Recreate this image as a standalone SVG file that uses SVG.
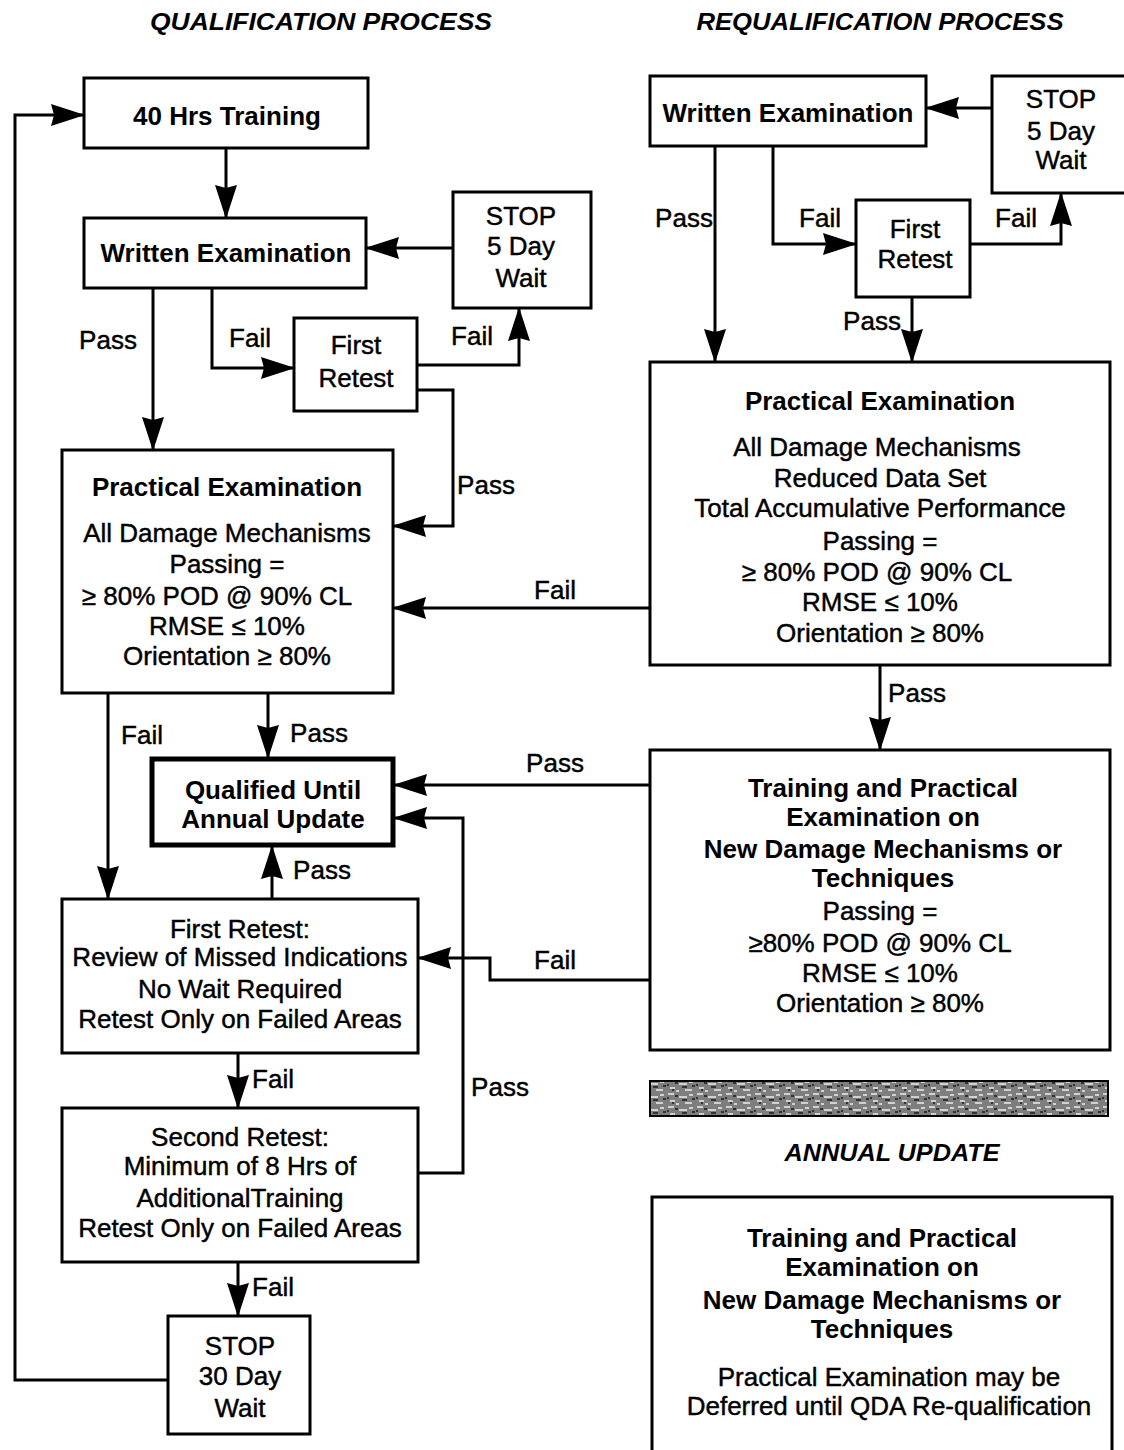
<svg xmlns="http://www.w3.org/2000/svg" width="1124" height="1450" viewBox="0 0 1124 1450">
<style>
  text { font-family: "Liberation Sans", Arial, sans-serif; font-size: 26px; fill: #000; text-anchor: middle; }
  .b { font-weight: bold; }
  .r { font-weight: normal; stroke: #000; stroke-width: 0.45; }
  .h { font-weight: bold; font-style: italic; font-size: 24px; }
  .box { fill: #fff; stroke: #000; stroke-width: 3; }
  .thick { fill: #fff; stroke: #000; stroke-width: 5; }
  .c { fill: none; stroke: #000; stroke-width: 3; marker-end: url(#ah); }
</style>
<defs>
  <marker id="ah" markerUnits="userSpaceOnUse" markerWidth="34" markerHeight="22" refX="33" refY="11" orient="auto">
    <path d="M0,0 L34,11 L0,22 L3,11 z" fill="#000"/>
  </marker>
  <pattern id="noise" patternUnits="userSpaceOnUse" width="29" height="13">
    <rect width="29" height="13" fill="#7e7e7e"/>
    <path d="M1,2 h6 M12,5 h8 M3,9 h5 M18,11 h7 M22,3 h4 M9,12 h3" stroke="#ececec" stroke-width="1.6"/>
    <path d="M8,4 h3 M15,8 h5 M0,6 h2 M25,7 h3 M5,11 h2" stroke="#1a1a1a" stroke-width="1.6"/>
  </pattern>
</defs>
<rect width="1124" height="1450" fill="#fff"/>

<text class="h" x="321" y="30" textLength="342" lengthAdjust="spacingAndGlyphs">QUALIFICATION PROCESS</text>
<text class="h" x="880" y="30" textLength="367" lengthAdjust="spacingAndGlyphs">REQUALIFICATION PROCESS</text>

<g id="connectors">
  <path class="c" d="M168,1380 H15 V115 H84"/>
  <path class="c" d="M226,148 V218"/>
  <path class="c" d="M453,248 H366"/>
  <path class="c" d="M153,288 V450"/>
  <path class="c" d="M212,288 V368 H294"/>
  <path class="c" d="M417,365 H519 V308"/>
  <path class="c" d="M417,390 H453 V526 H393"/>
  <path class="c" d="M650,608 H393"/>
  <path class="c" d="M268,693 V758"/>
  <path class="c" d="M108,693 V899"/>
  <path class="c" d="M272,899 V846"/>
  <path class="c" d="M650,785 H394"/>
  <path class="c" d="M418,1173 H463 V818 H394"/>
  <path class="c" d="M650,980 H490 V958 H418"/>
  <path class="c" d="M238,1053 V1108"/>
  <path class="c" d="M238,1262 V1316"/>
  <path class="c" d="M992,108 H926"/>
  <path class="c" d="M715,146 V362"/>
  <path class="c" d="M773,146 V244 H856"/>
  <path class="c" d="M970,244 H1061 V193"/>
  <path class="c" d="M912,297 V362"/>
  <path class="c" d="M880,665 V750"/>
  <g id="labels">
    <text class="r" x="108" y="349">Pass</text>
    <text class="r" x="250" y="347">Fail</text>
    <text class="r" x="472" y="345">Fail</text>
    <text class="r" x="486" y="494">Pass</text>
    <text class="r" x="555" y="599">Fail</text>
    <text class="r" x="142" y="744">Fail</text>
    <text class="r" x="319" y="742">Pass</text>
    <text class="r" x="555" y="772">Pass</text>
    <text class="r" x="322" y="879">Pass</text>
    <text class="r" x="555" y="969">Fail</text>
    <text class="r" x="273" y="1088">Fail</text>
    <text class="r" x="500" y="1096">Pass</text>
    <text class="r" x="273" y="1296">Fail</text>
    <text class="r" x="684" y="227">Pass</text>
    <text class="r" x="820" y="227">Fail</text>
    <text class="r" x="1016" y="227">Fail</text>
    <text class="r" x="872" y="330">Pass</text>
    <text class="r" x="917" y="702">Pass</text>
  </g>
</g>

<g id="training40">
  <rect class="box" x="84" y="78" width="284" height="70"/>
  <text class="b" x="227" y="125">40 Hrs Training</text>
</g>
<g id="written-left">
  <rect class="box" x="84" y="218" width="282" height="70"/>
  <text class="b" x="226" y="262">Written Examination</text>
</g>
<g id="stop5-left">
  <rect class="box" x="453" y="192" width="138" height="116"/>
  <text class="r" x="521" y="225">STOP</text>
  <text class="r" x="521" y="255">5 Day</text>
  <text class="r" x="521" y="287">Wait</text>
</g>
<g id="first-retest-left">
  <rect class="box" x="294" y="318" width="123" height="93"/>
  <text class="r" x="356" y="354">First</text>
  <text class="r" x="356" y="387">Retest</text>
</g>
<g id="practical-left">
  <rect class="box" x="62" y="450" width="331" height="243"/>
  <text class="b" x="227" y="496">Practical Examination</text>
  <text class="r" x="227" y="542">All Damage Mechanisms</text>
  <text class="r" x="227" y="573">Passing =</text>
  <text class="r" x="217" y="605">≥ 80% POD @ 90% CL</text>
  <text class="r" x="227" y="635">RMSE ≤ 10%</text>
  <text class="r" x="227" y="665">Orientation ≥ 80%</text>
</g>
<g id="qualified">
  <rect class="thick" x="152" y="759" width="241" height="86"/>
  <text class="b" x="273" y="799">Qualified Until</text>
  <text class="b" x="273" y="828">Annual Update</text>
</g>
<g id="first-retest-review">
  <rect class="box" x="62" y="899" width="356" height="154"/>
  <text class="r" x="240" y="938">First Retest:</text>
  <text class="r" x="240" y="966">Review of Missed Indications</text>
  <text class="r" x="240" y="998">No Wait Required</text>
  <text class="r" x="240" y="1028">Retest Only on Failed Areas</text>
</g>
<g id="second-retest">
  <rect class="box" x="62" y="1108" width="356" height="154"/>
  <text class="r" x="240" y="1146">Second Retest:</text>
  <text class="r" x="240" y="1175">Minimum of 8 Hrs of</text>
  <text class="r" x="240" y="1207">AdditionalTraining</text>
  <text class="r" x="240" y="1237">Retest Only on Failed Areas</text>
</g>
<g id="stop30">
  <rect class="box" x="168" y="1316" width="142" height="118"/>
  <text class="r" x="240" y="1355">STOP</text>
  <text class="r" x="240" y="1385">30 Day</text>
  <text class="r" x="240" y="1417">Wait</text>
</g>

<g id="written-right">
  <rect class="box" x="650" y="76" width="276" height="70"/>
  <text class="b" x="788" y="122">Written Examination</text>
</g>
<g id="stop5-right">
  <rect class="box" x="992" y="76" width="140" height="117"/>
  <text class="r" x="1061" y="108">STOP</text>
  <text class="r" x="1061" y="140">5 Day</text>
  <text class="r" x="1061" y="169">Wait</text>
</g>
<g id="first-retest-right">
  <rect class="box" x="856" y="200" width="114" height="97"/>
  <text class="r" x="915" y="238">First</text>
  <text class="r" x="915" y="268">Retest</text>
</g>
<g id="practical-right">
  <rect class="box" x="650" y="362" width="460" height="303"/>
  <text class="b" x="880" y="410">Practical Examination</text>
  <text class="r" x="877" y="456">All Damage Mechanisms</text>
  <text class="r" x="880" y="487">Reduced Data Set</text>
  <text class="r" x="880" y="517">Total Accumulative Performance</text>
  <text class="r" x="880" y="550">Passing =</text>
  <text class="r" x="877" y="581">≥ 80% POD @ 90% CL</text>
  <text class="r" x="880" y="611">RMSE ≤ 10%</text>
  <text class="r" x="880" y="642">Orientation ≥ 80%</text>
</g>
<g id="training-right">
  <rect class="box" x="650" y="750" width="460" height="300"/>
  <text class="b" x="883" y="797">Training and Practical</text>
  <text class="b" x="883" y="826">Examination on</text>
  <text class="b" x="883" y="858">New Damage Mechanisms or</text>
  <text class="b" x="883" y="887">Techniques</text>
  <text class="r" x="880" y="920">Passing =</text>
  <text class="r" x="880" y="952">≥80% POD @ 90% CL</text>
  <text class="r" x="880" y="982">RMSE ≤ 10%</text>
  <text class="r" x="880" y="1012">Orientation ≥ 80%</text>
</g>

<g id="divider">
  <rect x="650" y="1081" width="458" height="35" fill="url(#noise)" stroke="#000" stroke-width="2"/>
</g>
<text class="h" x="892" y="1161" textLength="215" lengthAdjust="spacingAndGlyphs">ANNUAL UPDATE</text>

<g id="annual-update">
  <rect class="box" x="652" y="1197" width="460" height="280"/>
  <text class="b" x="882" y="1247">Training and Practical</text>
  <text class="b" x="882" y="1276">Examination on</text>
  <text class="b" x="882" y="1309">New Damage Mechanisms or</text>
  <text class="b" x="882" y="1338">Techniques</text>
  <text class="r" x="889" y="1386">Practical Examination may be</text>
  <text class="r" x="889" y="1415">Deferred until QDA  Re-qualification</text>
</g>
</svg>
